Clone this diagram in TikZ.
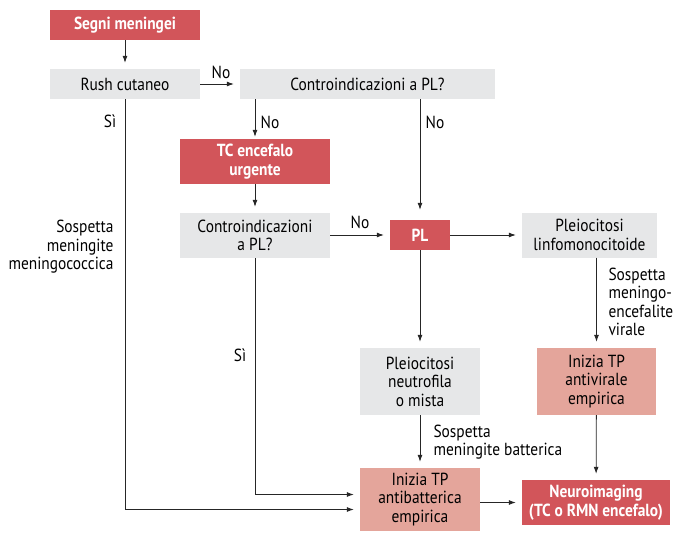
\documentclass[tikz,border=0pt]{standalone}
\usepackage{fontspec}
\setmainfont{PT Sans}[FakeStretch=0.88]
\usetikzlibrary{arrows.meta}

\definecolor{redbox}{HTML}{D2555A}
\definecolor{pinkbox}{HTML}{E4A59B}
\definecolor{graybox}{HTML}{E6E7E8}

\tikzset{
  box/.style={align=center, inner sep=0pt, font=\fontsize{17.5}{18.5}\selectfont},
  gbox/.style={box, fill=graybox},
  pbox/.style={box, fill=pinkbox},
  rbox/.style={box, fill=redbox, text=white, font=\fontsize{17.5}{18.5}\selectfont\bfseries},
  lbl/.style={font=\fontsize{17.5}{18.5}\selectfont},
  arr/.style={-{Latex[length=7pt,width=5pt]}, line width=0.8pt, black!85, shorten >=6pt},
  ln/.style={line width=0.8pt, black!85}
}

\begin{document}
\begin{tikzpicture}[x=1pt, y=-1pt]
  \useasboundingbox (0,0) rectangle (675,533);

  % boxes
  \node[rbox, minimum width=150pt, minimum height=30pt] (segni) at (125,25) {Segni meningei};
  \node[gbox, minimum width=150pt, minimum height=30pt] (rush) at (125,84) {Rush cutaneo};
  \node[gbox, minimum width=255pt, minimum height=30pt] (ctop) at (367.5,84) {Controindicazioni a PL?};
  \node[rbox, minimum width=150pt, minimum height=45pt] (tc) at (255,161.5) {TC encefalo\\urgente};
  \node[gbox, minimum width=150pt, minimum height=45pt] (cmid) at (255,235.5) {Controindicazioni\\a PL?};
  \node[rbox, minimum width=60pt, minimum height=30pt] (pl) at (420,235) {PL};
  \node[gbox, minimum width=135pt, minimum height=45pt] (plinfo) at (589.5,235) {Pleiocitosi\\linfomonocitoide};
  \node[gbox, minimum width=120pt, minimum height=67pt] (pneutro) at (420,381.5) {Pleiocitosi\\neutrofila\\o mista};
  \node[pbox, minimum width=119pt, minimum height=67pt] (antivir) at (596.5,381.5) {Inizia TP\\antivirale\\empirica};
  \node[pbox, minimum width=120pt, minimum height=63pt] (antibatt) at (420,499.5) {Inizia TP\\antibatterica\\empirica};
  \node[rbox, minimum width=148pt, minimum height=45pt] (neuro) at (596,502.5) {Neuroimaging\\(TC o RMN encefalo)};

  % connectors
  \draw[arr] (segni) -- (rush);
  \draw[arr] (rush) -- (ctop);
  \draw[arr, shorten >=2pt] (ctop.south -| tc) -- (tc);
  \draw[arr, shorten >=10pt] (ctop.south -| pl) -- (pl);
  \draw[arr] (tc) -- (cmid);
  \draw[arr] (cmid.east |- pl) -- (pl);
  \draw[arr] (pl) -- (plinfo);
  \draw[arr] (pl) -- (pneutro);
  \draw[arr] (plinfo.south -| antivir) -- (antivir);
  \draw[arr] (pneutro) -- (antibatt);
  \draw[arr] (antivir) -- (neuro);
  \draw[arr] (antibatt.east |- neuro) -- (neuro);
  \draw[arr] (rush) |- ([yshift=-10pt]antibatt.west);
  \draw[arr] (cmid) |- ([yshift=5pt]antibatt.west);

  % labels
  \node[lbl] (no1) at (221,72) {No};
  \node[lbl] (no2) at (270,122) {No};
  \node[lbl] (no3) at (435,122) {No};
  \node[lbl] (no4) at (360,222) {No};
  \node[lbl] (si1) at (110,121) {Sì};
  \node[lbl] (si2) at (240,355) {Sì};
  \node[lbl, align=right, anchor=east] (menin) at (117,247) {Sospetta\\meningite\\meningococcica};
  \node[lbl, align=left, anchor=west] (virale) at (605,302) {Sospetta\\meningo-\\encefalite\\virale};
  \node[lbl, align=left, anchor=west] (batt) at (430,442) {Sospetta\\meningite batterica};
\end{tikzpicture}
\end{document}
